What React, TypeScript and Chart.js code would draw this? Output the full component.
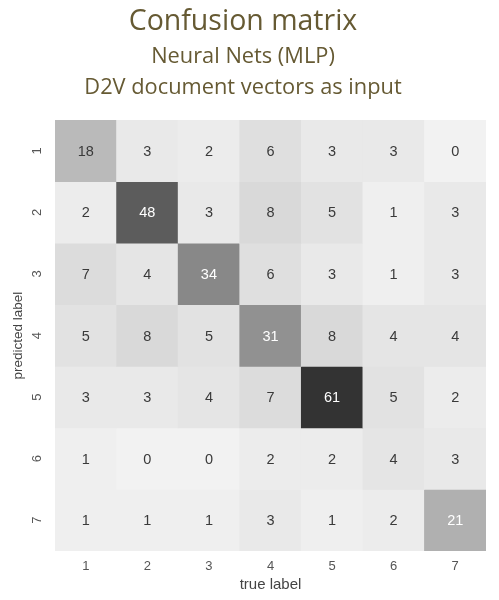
import React, { useEffect, useRef } from "react";
import { Chart, registerables } from "chart.js";

Chart.register(...registerables);

const trueLabels = ["1", "2", "3", "4", "5", "6", "7"];
const predictedLabels = ["1", "2", "3", "4", "5", "6", "7"];
const row1 = [18, 3, 2, 6, 3, 3, 0];
const row2 = [2, 48, 3, 8, 5, 1, 3];
const row3 = [7, 4, 34, 6, 3, 1, 3];
const row4 = [5, 8, 5, 31, 8, 4, 4];
const row5 = [3, 3, 4, 7, 61, 5, 2];
const row6 = [1, 0, 0, 2, 2, 4, 3];
const row7 = [1, 1, 1, 3, 1, 2, 21];
const matrix = [row1, row2, row3, row4, row5, row6, row7];

const titleText = "Confusion matrix";
const subtitleLines = ["Neural Nets (MLP)", "D2V document vectors as input"];

const allValues = matrix.flat();
const vMin = Math.min(...allValues);
const vMax = Math.max(...allValues);

function cellColor(v: number): string {
  const t = (v - vMin) / (vMax - vMin);
  const g = Math.round(242 - t * (242 - 51));
  return `rgb(${g},${g},${g})`;
}

const cellTextPlugin = {
  id: "cellText",
  afterDatasetsDraw(chart: any) {
    const ctx = chart.ctx;
    ctx.save();
    ctx.font = "14.5px 'Liberation Sans', Arial, sans-serif";
    ctx.textAlign = "center";
    ctx.textBaseline = "middle";
    chart.data.datasets.forEach((ds: any, i: number) => {
      const meta = chart.getDatasetMeta(i);
      meta.data.forEach((el: any, j: number) => {
        const v = matrix[i][j];
        ctx.fillStyle = v > 20 ? "#ffffff" : "#3a3a3a";
        ctx.fillText(String(v), el.x, (el.y + el.base) / 2 + 1);
      });
    });
    ctx.restore();
  },
};

export default function App() {
  const ref = useRef<HTMLCanvasElement | null>(null);
  useEffect(() => {
    document.body.style.margin = "0";
    if (!ref.current) return;
    const datasets = matrix.map((row, i) => ({
      label: predictedLabels[i],
      data: row.map(() => [i, i + 1]),
      backgroundColor: row.map((v) => cellColor(v)),
      borderWidth: 0,
      barPercentage: 1,
      categoryPercentage: 1,
      grouped: false,
    }));
    const chart = new Chart(ref.current, {
      type: "bar",
      data: { labels: trueLabels, datasets: datasets as any },
      plugins: [cellTextPlugin],
      options: {
        responsive: false,
        animation: false,
        layout: { padding: { left: 0, right: 13, top: 0, bottom: 0 } },
        plugins: {
          legend: { display: false },
          tooltip: { enabled: false },
          title: {
            display: true,
            text: titleText,
            color: "#665a33",
            font: { family: "'Open Sans', sans-serif", size: 28.5, weight: "normal", lineHeight: 1.2 },
            padding: { top: 5, bottom: 2 },
          },
          subtitle: {
            display: true,
            text: subtitleLines,
            color: "#665a33",
            font: { family: "'Open Sans', sans-serif", size: 21.8, weight: "normal", lineHeight: 1.42 },
            padding: { top: 0, bottom: 17 },
          },
        },
        scales: {
          x: {
            type: "category",
            grid: { display: false, drawTicks: false },
            border: { display: false },
            ticks: {
              color: "#555",
              font: { family: "'Liberation Sans', Arial, sans-serif", size: 13 },
              padding: 8,
            },
            title: {
              display: true,
              text: "true label",
              color: "#444",
              font: { family: "'Liberation Sans', Arial, sans-serif", size: 15 },
              padding: { top: 0, bottom: 6 },
            },
            afterFit: (scale: any) => {
              scale.height = 49;
            },
          },
          y: {
            type: "linear",
            min: 0,
            max: 7,
            reverse: true,
            grid: { display: false, drawTicks: false },
            border: { display: false },
            afterBuildTicks: (scale: any) => {
              scale.ticks = predictedLabels.map((_, i) => ({ value: i + 0.5 }));
            },
            ticks: {
              color: "#555",
              font: { family: "'Liberation Sans', Arial, sans-serif", size: 13 },
              minRotation: 90,
              maxRotation: 90,
              crossAlign: "center",
              padding: 14,
              callback: (value: any) => predictedLabels[Math.floor(Number(value))],
            },
            title: {
              display: true,
              text: "predicted label",
              color: "#444",
              font: { family: "'Liberation Sans', Arial, sans-serif", size: 13.5 },
              padding: { top: 10, bottom: 0 },
            },
            afterFit: (scale: any) => {
              scale.width = 55;
            },
          },
        },
      },
    });
    return () => chart.destroy();
  }, []);
  return <canvas ref={ref} width={499} height={600} style={{ display: "block" }} />;
}
